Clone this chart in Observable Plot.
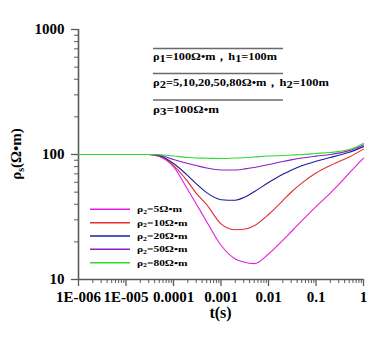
<!DOCTYPE html>
<html>
<head>
<meta charset="utf-8">
<script src="https://cdn.jsdelivr.net/npm/d3@7"></script>
<script src="https://cdn.jsdelivr.net/npm/@observablehq/plot@0.6"></script>
<style>
  html, body { margin: 0; padding: 0; background: #fff; }
  #chart { width: 381px; height: 341px; }
</style>
</head>
<body>
<div id="chart"></div>
<script>
// ---- data ----
const times = [1e-6, 1e-5, 3e-5, 5e-5, 1e-4, 2e-4, 3e-4, 5e-4, 1e-3, 2e-3, 3e-3, 5e-3, 1e-2, 2e-2, 3e-2, 5e-2, 0.1, 0.2, 0.3, 0.5, 1];
const rho5  = [100, 100, 100, 96.5, 80.0, 52.3, 40.4, 29.0, 18.8, 14.6, 13.8, 13.4, 16.0, 20.6, 24.1, 29.4, 38.3, 49.1, 57.3, 71.0, 93.6];
const rho10 = [100, 100, 100, 97.3, 81.6, 60.7, 49.1, 39.7, 27.9, 25.0, 25.2, 26.9, 33.1, 42.8, 49.9, 59.0, 71.1, 81.7, 87.5, 95.5, 110.4];
const rho20 = [100, 100, 100, 98.2, 84.7, 67.8, 58.5, 49.5, 43.5, 43.1, 45.2, 50.4, 59.6, 69.4, 74.9, 81.3, 88.3, 94.6, 98.6, 104.3, 115.6];
const rho50 = [100, 100, 100, 99.1, 91.2, 84.7, 81.6, 77.9, 75.1, 75.1, 76.5, 78.6, 83.1, 87.9, 90.6, 93.7, 97.0, 100.0, 102.5, 107.4, 119.1];
const rho80 = [100, 100, 100, 99.5, 97.3, 94.6, 93.7, 93.4, 92.9, 93.7, 94.2, 95.5, 97.3, 98.2, 99.0, 100, 101.9, 103.8, 105.5, 109.5, 122.6];

const seriesKeys   = ["5", "10", "20", "50", "80"];
const seriesValues = [rho5, rho10, rho20, rho50, rho80];
const seriesColors = ["#e020e0", "#e03030", "#1a1aa0", "#8a20c8", "#30d830"];

const xTicks = [1e-6, 1e-5, 1e-4, 1e-3, 1e-2, 0.1, 1];
const xTickLabels = ["1E-006", "1E-005", "0.0001", "0.001", "0.01", "0.1", "1"];
const yTicks = [10, 100, 1000];
const yTickLabels = ["10", "100", "1000"];

// ---- build table ----
const data = seriesKeys.flatMap((k, si) => times.map((t, i) => ({ t, v: seriesValues[si][i], s: k })));
const xMinor = [];
for (let e = -6; e < 0; e++) for (let m = 2; m <= 9; m++) xMinor.push(m * Math.pow(10, e));
const yMinor = [];
for (let e = 1; e < 3; e++) for (let m = 2; m <= 9; m++) yMinor.push(m * Math.pow(10, e));
const xFmt = new Map(xTicks.map((d, i) => [d, xTickLabels[i]]));
const yFmt = new Map(yTicks.map((d, i) => [d, yTickLabels[i]]));

const axisColor = "#5a5a5a";
const chart = Plot.plot({
  width: 381,
  height: 341,
  marginLeft: 78,
  marginRight: 18,
  marginTop: 29,
  marginBottom: 62,
  style: { fontFamily: "'Liberation Serif', serif", fontWeight: "bold", background: "#fff", color: "#000" },
  x: { type: "log", domain: [1e-6, 1] },
  y: { type: "log", domain: [10, 1000] },
  color: { domain: seriesKeys, range: seriesColors },
  marks: [
    Plot.axisX({ ticks: xTicks, tickFormat: d => xFmt.get(d), tickSize: 7, tickPadding: 5, fontSize: 15, stroke: axisColor, strokeWidth: 1.3, label: null }),
    Plot.axisX({ ticks: xMinor, tickSize: 4, text: null, stroke: axisColor, strokeWidth: 1, label: null }),
    Plot.axisY({ ticks: yTicks, tickFormat: d => yFmt.get(d), tickSize: 7, tickPadding: 7, fontSize: 15, stroke: axisColor, strokeWidth: 1.3, label: null }),
    Plot.axisY({ ticks: yMinor, tickSize: 4, text: null, stroke: axisColor, strokeWidth: 1, label: null }),
    Plot.ruleX([1e-6], { stroke: axisColor, strokeWidth: 1.6 }),
    Plot.ruleY([10], { stroke: axisColor, strokeWidth: 1.6 }),
    Plot.line(data, { x: "t", y: "v", z: "s", stroke: "s", curve: "monotone-x", strokeWidth: 1.1 })
  ]
});
document.getElementById("chart").appendChild(chart);

// ---- annotations (titles, parameter box, legend) ----
const svg = d3.select(chart);
const font = "'Liberation Serif', serif";

// x title
svg.append("text").attr("x", 220.5).attr("y", 318).attr("text-anchor", "middle")
  .attr("font-family", font).attr("font-weight", "bold").attr("font-size", 16).attr("fill", "#000")
  .text("t(s)");

// y title
const yt = svg.append("text").attr("transform", "translate(21,154) rotate(-90)").attr("text-anchor", "middle")
  .attr("font-family", font).attr("font-weight", "bold").attr("font-size", 15).attr("fill", "#000");
yt.append("tspan").text("ρ");
yt.append("tspan").attr("font-size", 10).attr("dy", 3).text("s");
yt.append("tspan").attr("dy", -3).text("(Ω•m)");

// parameter box
const boxLines = [48.5, 73.5, 100];
boxLines.forEach(y => svg.append("line").attr("x1", 153).attr("x2", 283).attr("y1", y).attr("y2", y)
  .attr("stroke", "#6a6a6a").attr("stroke-width", 1.4));

function paramText(y, parts, len) {
  const t = svg.append("text").attr("x", 153).attr("y", y).attr("text-anchor", "start")
    .attr("font-family", font).attr("font-weight", "bold").attr("font-size", 10.5).attr("fill", "#000")
    .attr("textLength", len).attr("lengthAdjust", "spacingAndGlyphs");
  let sub = false;
  parts.forEach(([s, isSub]) => {
    const dy = isSub && !sub ? 2 : (!isSub && sub ? -2 : 0);
    t.append("tspan").attr("dy", dy).text(s);
    sub = isSub;
  });
}
paramText(59.5, [["ρ", false], ["1", true], ["=100Ω•m", false], ["，", false], ["h", false], ["1", true], ["=100m", false]], 124);
paramText(85.5, [["ρ", false], ["2", true], ["=5,10,20,50,80Ω•m", false], ["，", false], ["h", false], ["2", true], ["=100m", false]], 176);
paramText(113, [["ρ", false], ["3", true], ["=100Ω•m", false]], 66);

// legend
const legendY = [209.3, 222.7, 236, 249.3, 262.7];
const legendLen = [45, 50.5, 50.5, 50.5, 50.5];
seriesKeys.forEach((k, i) => {
  const y = legendY[i];
  svg.append("line").attr("x1", 90).attr("x2", 130).attr("y1", y).attr("y2", y)
    .attr("stroke", seriesColors[i]).attr("stroke-width", 1.6);
  const t = svg.append("text").attr("x", 137).attr("y", y + 3).attr("text-anchor", "start")
    .attr("font-family", font).attr("font-weight", "bold").attr("font-size", 9).attr("fill", "#000")
    .attr("textLength", legendLen[i]).attr("lengthAdjust", "spacingAndGlyphs");
  t.append("tspan").text("ρ");
  t.append("tspan").attr("font-size", 6).attr("dy", 1.5).text("2");
  t.append("tspan").attr("dy", -1.5).text("=" + k + "Ω•m");
});
</script>
</body>
</html>
